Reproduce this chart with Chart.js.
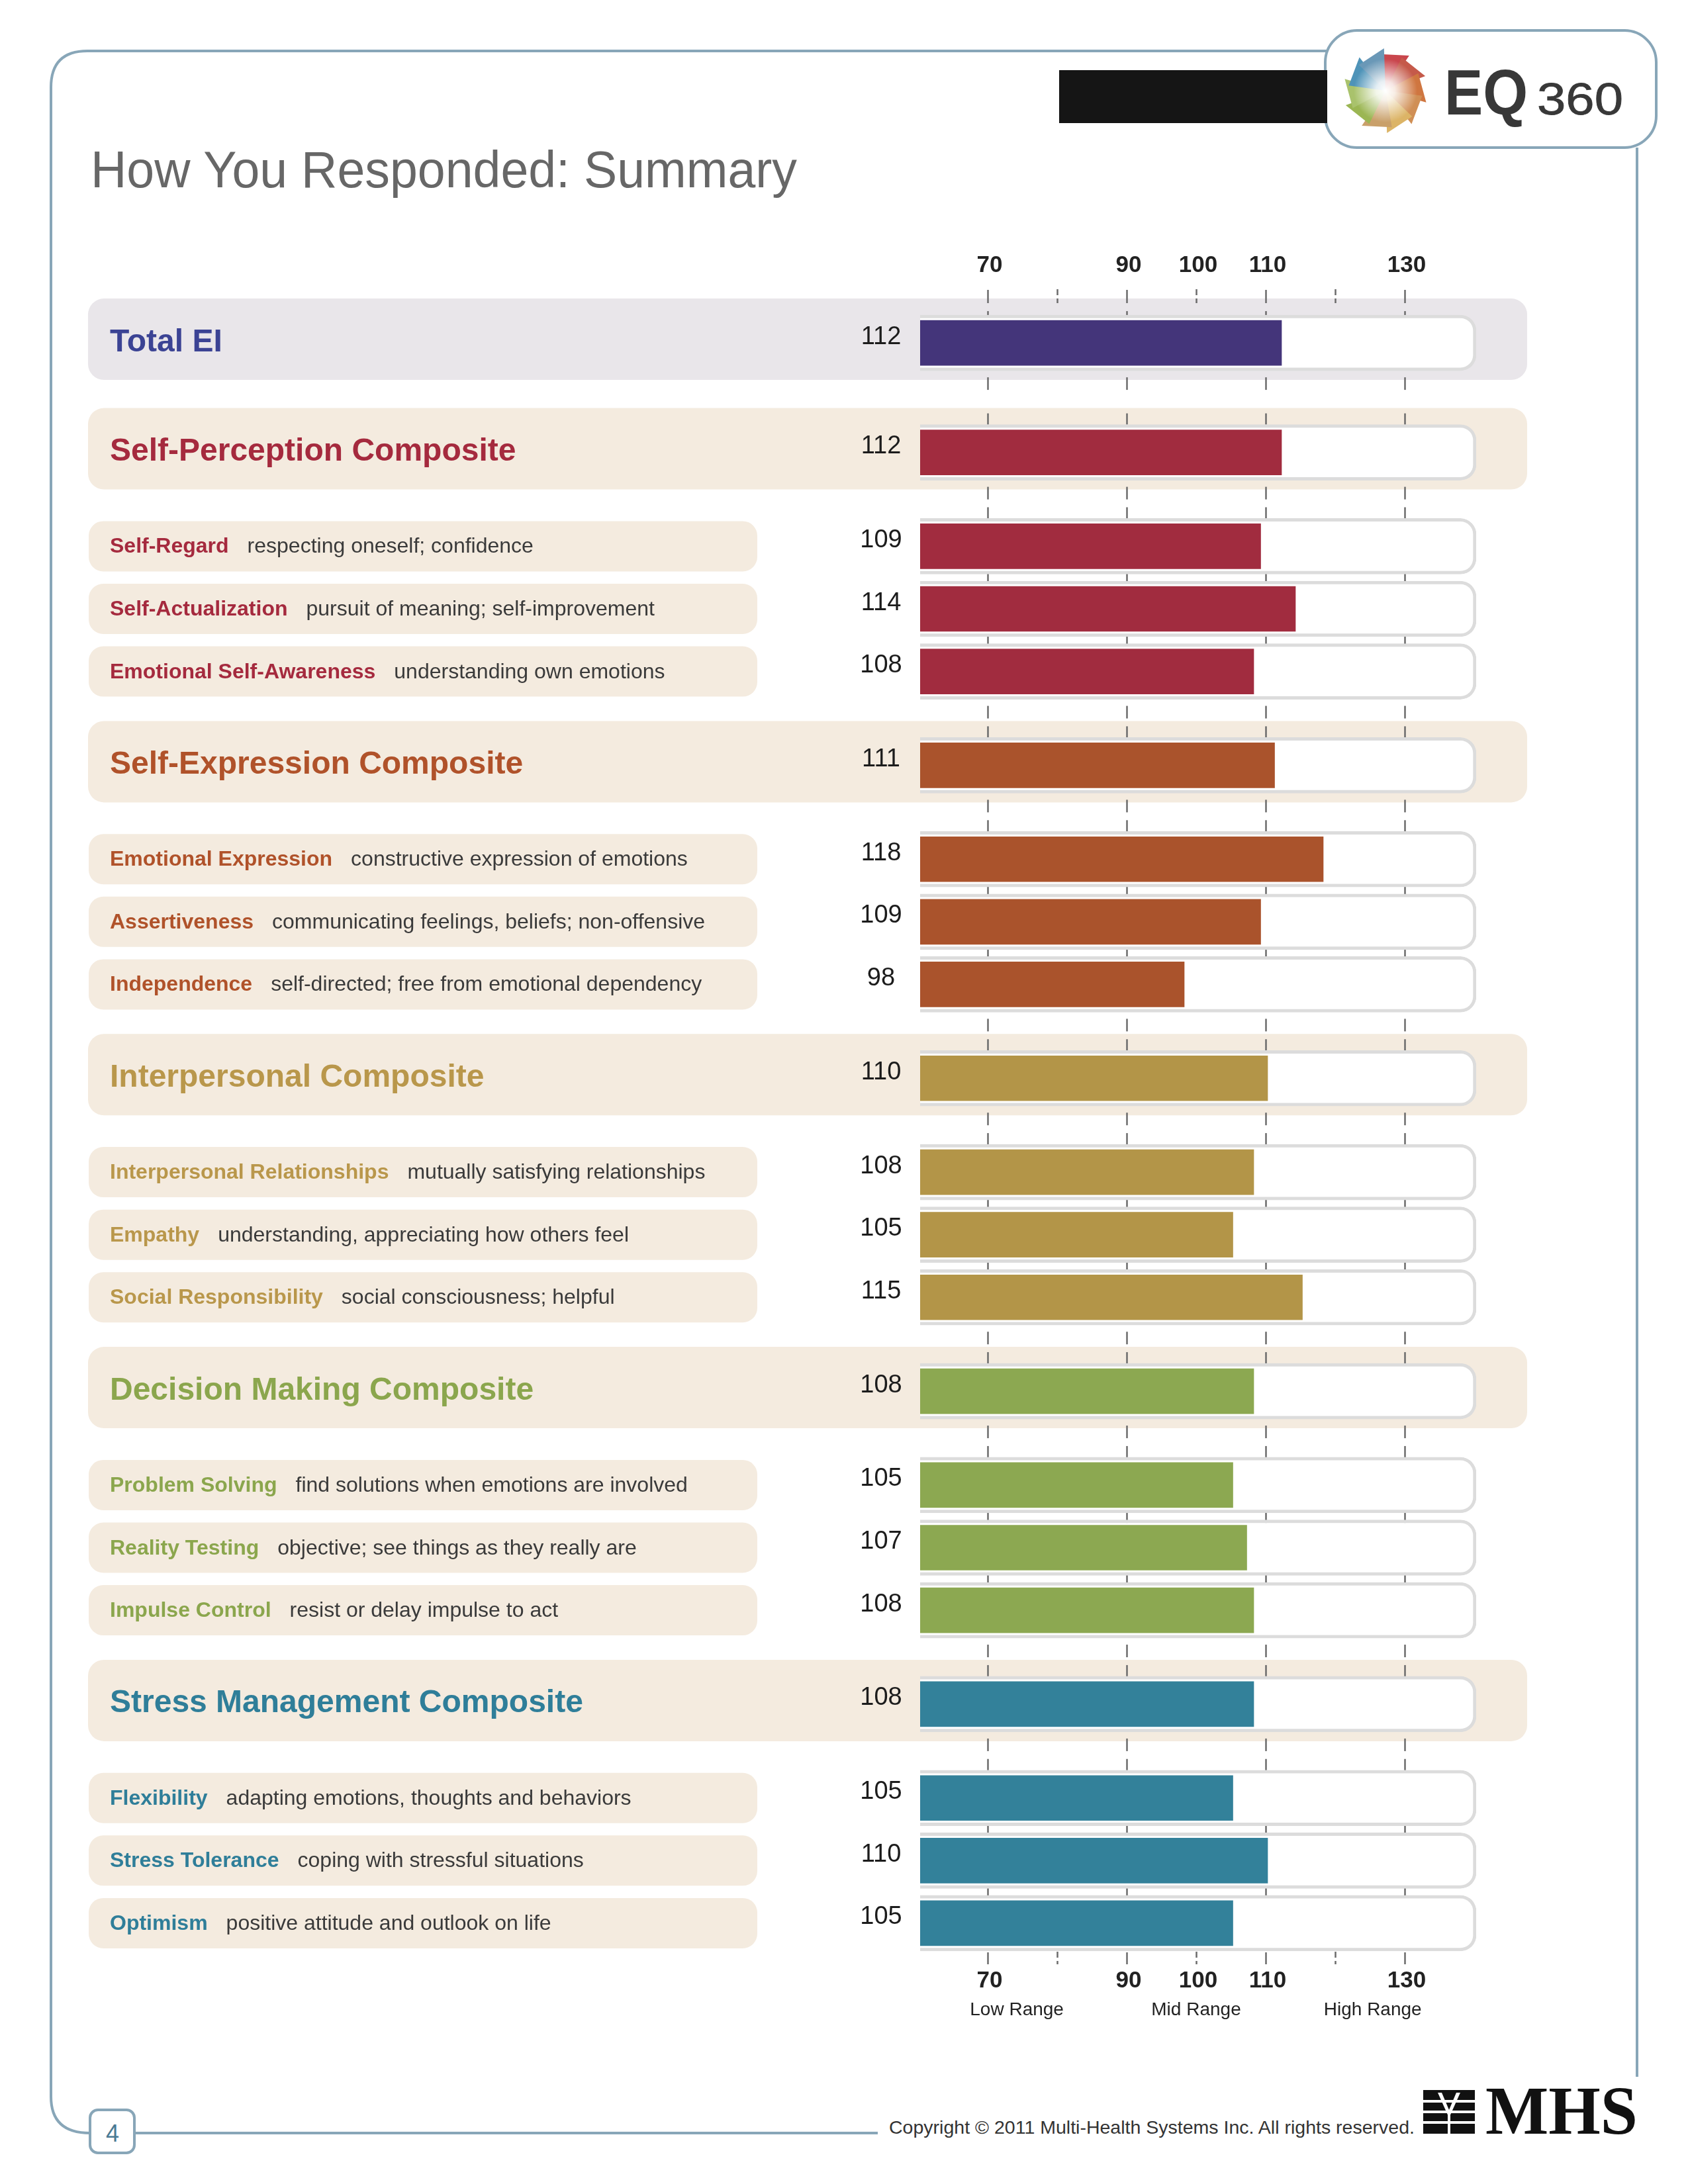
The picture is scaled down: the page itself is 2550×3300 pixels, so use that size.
<!DOCTYPE html>
<html lang="en">
<head>
<meta charset="UTF-8">
<title>How You Responded: Summary</title>
<script src="https://cdn.jsdelivr.net/npm/chart.js@4.4.1/dist/chart.umd.min.js"></script>
<style>
  html, body { margin: 0; padding: 0; background: #fff; }
  .page { position: relative; width: 2550px; height: 3300px; overflow: hidden; background: #fff; }
  .page svg, .page canvas { position: absolute; left: 0; top: 0; }
</style>
</head>
<body>
<div class="page">
  <svg id="decor" width="2550" height="3300" viewBox="0 0 2550 3300" font-family="'Liberation Sans', Arial, sans-serif">
    <defs>
      <radialGradient id="glow">
        <stop offset="0" stop-color="#fff" stop-opacity="1"/>
        <stop offset="0.3" stop-color="#fff" stop-opacity="0.85"/>
        <stop offset="1" stop-color="#fff" stop-opacity="0"/>
      </radialGradient>
    </defs>
    <!-- page frame -->
    <g fill="none" stroke="#88a6b8" stroke-width="4">
      <path d="M 2004 77 L 132 77 Q 77 77 77 132 L 77 3168 Q 77 3223 136 3223"/>
      <line x1="203" y1="3223" x2="1326" y2="3223"/>
      <line x1="2473" y1="223" x2="2473" y2="3138"/>
    </g>
    <rect x="136" y="3188" width="67" height="65" rx="12" fill="#fff" stroke="#88a6b8" stroke-width="4"/>
    <text x="170" y="3236" text-anchor="middle" font-size="36" fill="#4a7a94">4</text>

    <!-- header -->
    <rect x="2002" y="46" width="500" height="177" rx="48" fill="#fff" stroke="#88a6b8" stroke-width="4"/>
    <rect x="1600" y="106" width="405" height="80" fill="#151515"/>
    <g id="petals"></g>
    <circle cx="2093" cy="137" r="48" fill="url(#glow)"/>
    <text x="2182" y="173" font-size="97" font-weight="bold" fill="#383838" textLength="126" lengthAdjust="spacingAndGlyphs">EQ</text>
    <text x="2322" y="173" font-size="68" fill="#383838" stroke="#383838" stroke-width="0.8" textLength="130" lengthAdjust="spacingAndGlyphs">360</text>

    <text x="137" y="283" font-size="78" fill="#676767" textLength="1067" lengthAdjust="spacingAndGlyphs">How You Responded: Summary</text>

    <!-- footer -->
    <text x="1343" y="3224" font-size="28" fill="#333" textLength="794" lengthAdjust="spacingAndGlyphs">Copyright © 2011 Multi-Health Systems Inc. All rights reserved.</text>
    <g>
      <rect x="2150" y="3158" width="78" height="66" fill="#111"/>
      <rect x="2150" y="3173" width="78" height="4" fill="#fff"/>
      <rect x="2150" y="3189" width="78" height="4" fill="#fff"/>
      <rect x="2150" y="3205" width="78" height="4" fill="#fff"/>
      <polygon points="2172,3162 2189,3200 2206,3162 2200,3162 2189,3188 2178,3162" fill="#fff"/>
      <rect x="2187" y="3196" width="4" height="28" fill="#fff"/>
    </g>
    <text x="2244" y="3224" font-family="'Liberation Serif', 'Times New Roman', serif" font-weight="bold" font-size="104" fill="#111" textLength="230" lengthAdjust="spacingAndGlyphs">MHS</text>
  </svg>
  <canvas id="summaryChart" width="2550" height="3300" style="width:2550px;height:3300px"></canvas>
</div>

<script>
// --- data -------------------------------------------------------------
const rowLabels = [
  'Total EI',
  'Self-Perception Composite', 'Self-Regard', 'Self-Actualization', 'Emotional Self-Awareness',
  'Self-Expression Composite', 'Emotional Expression', 'Assertiveness', 'Independence',
  'Interpersonal Composite', 'Interpersonal Relationships', 'Empathy', 'Social Responsibility',
  'Decision Making Composite', 'Problem Solving', 'Reality Testing', 'Impulse Control',
  'Stress Management Composite', 'Flexibility', 'Stress Tolerance', 'Optimism'
];
const rowDescriptions = [
  '',
  '', 'respecting oneself; confidence', 'pursuit of meaning; self-improvement', 'understanding own emotions',
  '', 'constructive expression of emotions', 'communicating feelings, beliefs; non-offensive', 'self-directed; free from emotional dependency',
  '', 'mutually satisfying relationships', 'understanding, appreciating how others feel', 'social consciousness; helpful',
  '', 'find solutions when emotions are involved', 'objective; see things as they really are', 'resist or delay impulse to act',
  '', 'adapting emotions, thoughts and behaviors', 'coping with stressful situations', 'positive attitude and outlook on life'
];
const rowScores = [112, 112, 109, 114, 108, 111, 118, 109, 98, 110, 108, 105, 115, 108, 105, 107, 108, 108, 105, 110, 105];
const rowGroups = [0, 1, 1, 1, 1, 2, 2, 2, 2, 3, 3, 3, 3, 4, 4, 4, 4, 5, 5, 5, 5];
const rowKinds = ['total', 'composite', 'sub', 'sub', 'sub', 'composite', 'sub', 'sub', 'sub',
  'composite', 'sub', 'sub', 'sub', 'composite', 'sub', 'sub', 'sub', 'composite', 'sub', 'sub', 'sub'];
const tickValues = [70, 90, 100, 110, 130];
const majorMarks = [70, 90, 110, 130];
const minorMarks = [80, 100, 120];
const rangeLabels = ['Low Range', 'Mid Range', 'High Range'];
const SCALE_MIN = 60;
const SCALE_MAX = 140;

// --- styling / layout ---------------------------------------------------
const FONT = '"Liberation Sans", Arial, sans-serif';
const groupBarColors = ['#44357a', '#a12c3f', '#aa532c', '#b39548', '#8ca851', '#33819a'];
const groupTextColors = ['#3b4394', '#a52a3e', '#b0522a', '#b9974b', '#8ba64d', '#2f7e99'];
const rangeCentres = [74.2, 100, 125.4];

// vertical slots: subscales 4 apart, composites 6, after Total EI 7
const rowSlots = [];
rowKinds.forEach((k, i) => {
  if (i === 0) { rowSlots.push(0); return; }
  const prev = rowKinds[i - 1];
  const step = prev === 'total' ? 7 : (k === 'composite' || prev === 'composite') ? 6 : 4;
  rowSlots.push(rowSlots[i - 1] + step);
});

// logo petals
(function drawPetals() {
  const ns = 'http://www.w3.org/2000/svg';
  const g = document.getElementById('petals');
  const cols = ['#c9464d', '#c55a4a', '#cf7640', '#d08f55', '#dcb466', '#c9a06a', '#9bb653', '#a9c26c', '#4e93b8', '#6a98b7'];
  const cx = 2093, cy = 137;
  cols.forEach((col, k) => {
    const a0 = (-100 + k * 36) * Math.PI / 180;
    const a1 = a0 + 44 * Math.PI / 180;
    const p = document.createElementNS(ns, 'polygon');
    const pts = [[cx, cy], [cx + 56 * Math.cos(a0), cy + 56 * Math.sin(a0)], [cx + 64 * Math.cos(a1), cy + 64 * Math.sin(a1)]];
    p.setAttribute('points', pts.map(q => q.join(',')).join(' '));
    p.setAttribute('fill', col);
    g.appendChild(p);
  });
})();

function line(ctx, x, y0, y1) {
  ctx.beginPath();
  ctx.moveTo(x, y0);
  ctx.lineTo(x, y1);
  ctx.stroke();
}

const rowPainter = {
  id: 'rowPainter',
  beforeDatasetsDraw(chart) {
    const { ctx } = chart;
    const x = chart.scales.x, y = chart.scales.y;
    ctx.save();
    // row backgrounds
    rowSlots.forEach((s, i) => {
      const c = y.getPixelForValue(s);
      ctx.beginPath();
      if (rowKinds[i] === 'sub') {
        ctx.roundRect(134, c - 38, 1010, 76, 22);
        ctx.fillStyle = '#f4ebdf';
      } else {
        ctx.roundRect(133, c - 67, 2174, 123, 24);
        ctx.fillStyle = rowKinds[i] === 'total' ? '#e9e6ea' : '#f4ebdf';
      }
      ctx.fill();
    });
    // short tick marks above / below each bar
    ctx.strokeStyle = '#6b6b6b';
    ctx.lineWidth = 2.5;
    rowSlots.forEach((s, i) => {
      const c = y.getPixelForValue(s);
      majorMarks.forEach(v => {
        const px = Math.round(x.getPixelForValue(v)) - 2.5;
        line(ctx, px, c - (i > 0 ? 59 : 48), c - 42);
        if (i < rowSlots.length - 1) line(ctx, px, c + 52, c + 71);
      });
    });
    // axis marks, top and bottom
    const marks = (y0, y1) => {
      ctx.setLineDash([]);
      majorMarks.forEach(v => line(ctx, Math.round(x.getPixelForValue(v)) - 2.5, y0, y1));
      ctx.setLineDash([9, 5]);
      minorMarks.forEach(v => line(ctx, Math.round(x.getPixelForValue(v)) - 2.5, y0 - 1, y1));
      ctx.setLineDash([]);
    };
    marks(438, 458);
    marks(2950, 2968);
    ctx.restore();
  },
  afterDatasetsDraw(chart) {
    const { ctx } = chart;
    const x = chart.scales.x, y = chart.scales.y;
    ctx.save();
    ctx.textBaseline = 'alphabetic';
    rowLabels.forEach((name, i) => {
      const c = y.getPixelForValue(rowSlots[i]);
      ctx.textAlign = 'left';
      ctx.fillStyle = groupTextColors[rowGroups[i]];
      if (rowKinds[i] === 'sub') {
        ctx.font = `bold 32px ${FONT}`;
        ctx.fillText(name, 166, c + 10);
        const w = ctx.measureText(name).width;
        ctx.font = `32px ${FONT}`;
        ctx.fillStyle = '#3a3a3a';
        ctx.fillText(rowDescriptions[i], 166 + w + 28, c + 10);
      } else {
        ctx.font = `bold 48px ${FONT}`;
        ctx.fillText(name, 166, c + 12.5);
      }
      ctx.font = `38px ${FONT}`;
      ctx.fillStyle = '#1c1c1c';
      ctx.textAlign = 'center';
      ctx.fillText(String(rowScores[i]), 1331, c + 1.5);
    });
    ctx.font = `28px ${FONT}`;
    ctx.fillStyle = '#222';
    ctx.textAlign = 'center';
    rangeLabels.forEach((t, k) => ctx.fillText(t, x.getPixelForValue(rangeCentres[k]) - 3, 3045));
    ctx.restore();
  }
};

const axisTicks = (position, padding) => ({
  type: 'linear',
  position,
  min: SCALE_MIN,
  max: SCALE_MAX,
  stacked: false,
  offset: false,
  grid: { display: false, drawTicks: false },
  border: { display: false },
  ticks: {
    font: { family: FONT, size: 35, weight: 'bold' },
    color: '#222',
    padding,
    maxRotation: 0,
    autoSkip: false
  },
  afterBuildTicks: s => { s.ticks = tickValues.map(v => ({ value: v })); },
  afterFit: s => { s.height = 100; }
});

new Chart(document.getElementById('summaryChart'), {
  type: 'bar',
  data: {
    datasets: [
      {
        label: 'Score',
        data: rowScores.map((v, i) => ({ x: v, y: rowSlots[i] })),
        backgroundColor: rowGroups.map(g => groupBarColors[g]),
        borderWidth: 0,
        borderRadius: { topLeft: 18, bottomLeft: 18, topRight: 0, bottomRight: 0 },
        borderSkipped: false,
        grouped: false,
        barPercentage: 1,
        categoryPercentage: 1,
        maxBarThickness: 68,
        order: 0
      },
      {
        label: 'Range',
        data: rowSlots.map(s => ({ x: SCALE_MAX, y: s })),
        backgroundColor: '#ffffff',
        borderColor: '#dcdcdc',
        borderWidth: 5,
        borderRadius: 24,
        borderSkipped: false,
        grouped: false,
        barPercentage: 1,
        categoryPercentage: 1,
        maxBarThickness: 84,
        order: 1
      }
    ]
  },
  options: {
    indexAxis: 'y',
    responsive: false,
    animation: false,
    devicePixelRatio: 1,
    layout: { padding: { left: 1390, right: 320, top: 359, bottom: 235 } },
    plugins: { legend: { display: false }, tooltip: { enabled: false } },
    scales: {
      x: axisTicks('top', 37),
      xBottom: axisTicks('bottom', 7),
      y: {
        type: 'linear',
        min: -2.5,
        max: 103.5,
        reverse: true,
        offset: false,
        grace: 0,
        display: false,
        afterBuildTicks: s => { s.ticks = rowSlots.map(v => ({ value: v })); }
      }
    }
  },
  plugins: [rowPainter]
});
</script>
</body>
</html>
